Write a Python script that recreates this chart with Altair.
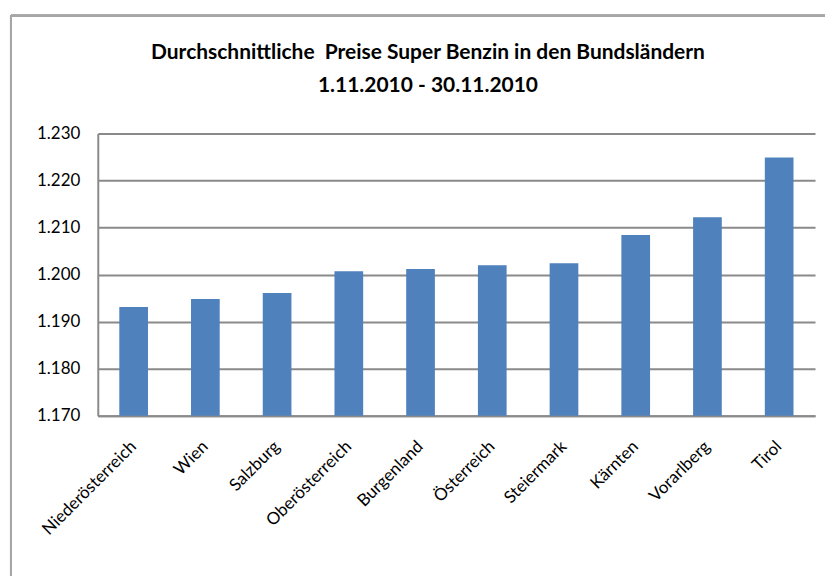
import altair as alt
import pandas as pd

regions = ["Niederösterreich", "Wien", "Salzburg", "Oberösterreich", "Burgenland",
           "Österreich", "Steiermark", "Kärnten", "Vorarlberg", "Tirol"]
prices = [1.1931, 1.1948, 1.1961, 1.2007, 1.2012, 1.2020, 1.2024, 1.2084, 1.2122, 1.2249]
y_ticks = [1.170, 1.180, 1.190, 1.200, 1.210, 1.220, 1.230]
title_lines = ["Durchschnittliche\u00a0 Preise Super Benzin in den Bundsländern",
               "1.11.2010 - 30.11.2010"]

df = pd.DataFrame({"Region": regions, "Preis": prices})
title_df = pd.DataFrame({"line": title_lines, "row": [0, 1]})

FONT = "Lato"
GRID = "#8a8a8a"

bars = alt.Chart(df).mark_bar(color="#4F81BD", clip=True).encode(
    x=alt.X("Region:N", sort=regions, title=None,
            scale=alt.Scale(paddingInner=0.6, paddingOuter=0.3),
            axis=alt.Axis(labelAngle=-45, labelAlign="right", labelBaseline="middle",
                          labelPadding=28, ticks=False, domainColor=GRID, domainWidth=2,
                          labelFont=FONT, labelFontSize=17, labelColor="black")),
    y=alt.Y("Preis:Q", title=None,
            scale=alt.Scale(domain=[1.170, 1.230], zero=False, nice=False),
            axis=alt.Axis(values=y_ticks, format=".3f", ticks=False, domainColor=GRID,
                          domainWidth=2, gridColor=GRID, gridWidth=2, labelPadding=18,
                          labelFont=FONT, labelFontSize=17, labelColor="black")),
)

title = alt.Chart(title_df).mark_text(
    font=FONT, fontSize=21, fontWeight="bold", color="black", baseline="middle",
    align="center"
).encode(
    text="line:N",
    x=alt.value(331),
    y=alt.Y("row:Q", axis=None, scale=alt.Scale(domain=[0, 1], range=[-81, -47])),
)

frame_v = alt.Chart(df).mark_rule(color="#a6a6a6", strokeWidth=2).encode(
    x=alt.value(-87), y=alt.value(-118), y2=alt.value(700))
frame_h = alt.Chart(df).mark_rule(color="#a6a6a6", strokeWidth=2).encode(
    x=alt.value(-87), x2=alt.value(1000), y=alt.value(-118))

chart = alt.layer(bars, title, frame_v, frame_h).resolve_scale(y="independent").properties(
    width=719, height=283,
    autosize=alt.AutoSizeParams(type="none"),
    padding={"left": 90, "top": 125, "right": 10, "bottom": 160},
).configure_view(stroke=None)

chart.save("out.html", embed_options={"renderer": "svg", "actions": False})
